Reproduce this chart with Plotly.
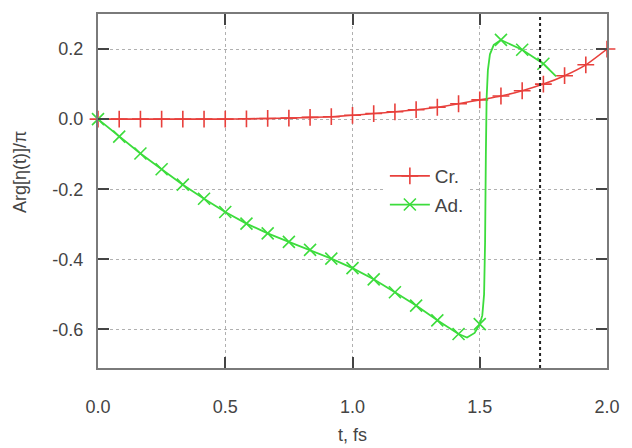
import plotly.graph_objects as go

# ---- data ----
cr_t = [0.0, 0.0833, 0.1667, 0.25, 0.3333, 0.4167, 0.5, 0.5833, 0.6667, 0.75, 0.8333,
        0.9167, 1.0, 1.0833, 1.1667, 1.25, 1.3333, 1.4167, 1.5, 1.5833, 1.6667, 1.75,
        1.8333, 1.9167, 2.0]
cr_y = [0.0, 0.0, 0.0, 0.0, 0.0, 0.0, 0.0, 0.001, 0.002, 0.003, 0.005,
        0.007, 0.011, 0.016, 0.021, 0.027, 0.034, 0.044, 0.055, 0.066, 0.081, 0.100,
        0.124, 0.155, 0.200]

ad_t = [0.0, 0.0833, 0.1667, 0.25, 0.3333, 0.4167, 0.5, 0.5833, 0.6667, 0.75, 0.8333,
        0.9167, 1.0, 1.0833, 1.1667, 1.25, 1.3333, 1.4167, 1.45, 1.48, 1.5, 1.51,
        1.517, 1.521, 1.524, 1.527, 1.532, 1.54, 1.555, 1.5833, 1.6667, 1.75, 1.80]
ad_y = [0.0, -0.050, -0.098, -0.143, -0.187, -0.227, -0.265, -0.298, -0.326, -0.350, -0.373,
        -0.398, -0.425, -0.457, -0.494, -0.532, -0.574, -0.613, -0.623, -0.610, -0.585, -0.56,
        -0.50, -0.35, -0.10, 0.06, 0.14, 0.185, 0.212, 0.226, 0.198, 0.158, 0.122]
ad_marked = [1, 1, 1, 1, 1, 1, 1, 1, 1, 1, 1,
             1, 1, 1, 1, 1, 1, 1, 0, 0, 1, 0,
             0, 0, 0, 0, 0, 0, 0, 1, 1, 1, 0]

t_line = 1.737

x_ticks = [0.0, 0.5, 1.0, 1.5, 2.0]
x_ticktext = ["0.0", "0.5", "1.0", "1.5", "2.0"]
y_ticks = [-0.6, -0.4, -0.2, 0.0, 0.2]
y_ticktext = ["-0.6", "-0.4", "-0.2", "0.0", "0.2"]

RED = "#e8403c"
GREEN = "#3cdc3c"
CLEAR = "rgba(0,0,0,0)"
MS = 12

fig = go.Figure()
fig.add_trace(go.Scatter(
    x=cr_t, y=cr_y, mode="lines+markers", name="Cr.", legendgroup="cr",
    line=dict(color=RED, width=1.6, shape="spline", smoothing=0.6),
    marker=dict(symbol="cross-thin", size=MS, color=RED, line=dict(color=RED, width=1.6)),
    cliponaxis=False,
))
ad_colors = [GREEN if m else CLEAR for m in ad_marked]
fig.add_trace(go.Scatter(
    x=ad_t, y=ad_y, mode="lines+markers", name="Ad.", legendgroup="ad",
    line=dict(color=GREEN, width=1.8),
    marker=dict(symbol="x-thin", size=MS, color=ad_colors,
                line=dict(color=ad_colors, width=1.6)),
    cliponaxis=False,
))

fig.add_shape(type="line", xref="x", yref="paper", x0=t_line, x1=t_line, y0=0, y1=1,
              line=dict(color="#222222", width=2, dash="dot"))

FONT = "Liberation Sans, Arial, sans-serif"
axis_common = dict(
    showline=True, linecolor="#7a7a7a", linewidth=2, mirror="ticks",
    ticks="inside", ticklen=11, tickwidth=2, tickcolor="#444444",
    showgrid=True, gridcolor="#b0b0b0", griddash="dot", gridwidth=1,
    zeroline=False, tickfont=dict(family=FONT, size=18, color="#444444"),
)
fig.update_xaxes(range=[0, 2.0], tickvals=x_ticks, ticktext=x_ticktext,
                 ticklabelstandoff=21, **axis_common)
fig.update_yaxes(range=[-0.71, 0.30], tickvals=y_ticks, ticktext=y_ticktext,
                 ticklabelstandoff=9, **axis_common)

fig.add_annotation(text="Arg[η(t)]/π", xref="paper", yref="paper", x=-0.153, y=(368 - 172) / 354,
                   textangle=-90, showarrow=False, xanchor="center", yanchor="middle",
                   font=dict(family=FONT, size=18, color="#444444"))
fig.add_annotation(text="t, fs", xref="paper", yref="paper", x=0.5, y=(368 - 423) / 354,
                   showarrow=False, xanchor="center", yanchor="top",
                   font=dict(family=FONT, size=18, color="#444444"))

fig.update_layout(
    width=632, height=448,
    margin=dict(l=98, r=23, t=14, b=80),
    plot_bgcolor="white", paper_bgcolor="white",
    font=dict(family=FONT, size=18, color="#444444"),
    legend=dict(x=(386 - 98) / 511, y=(368 - 157) / 354, xanchor="left", yanchor="top",
                bgcolor="white", borderwidth=0, traceorder="grouped", tracegroupgap=1,
                itemwidth=40,
                font=dict(family=FONT, size=19, color="#444444")),
    showlegend=True,
)

fig.write_html("out.html")
